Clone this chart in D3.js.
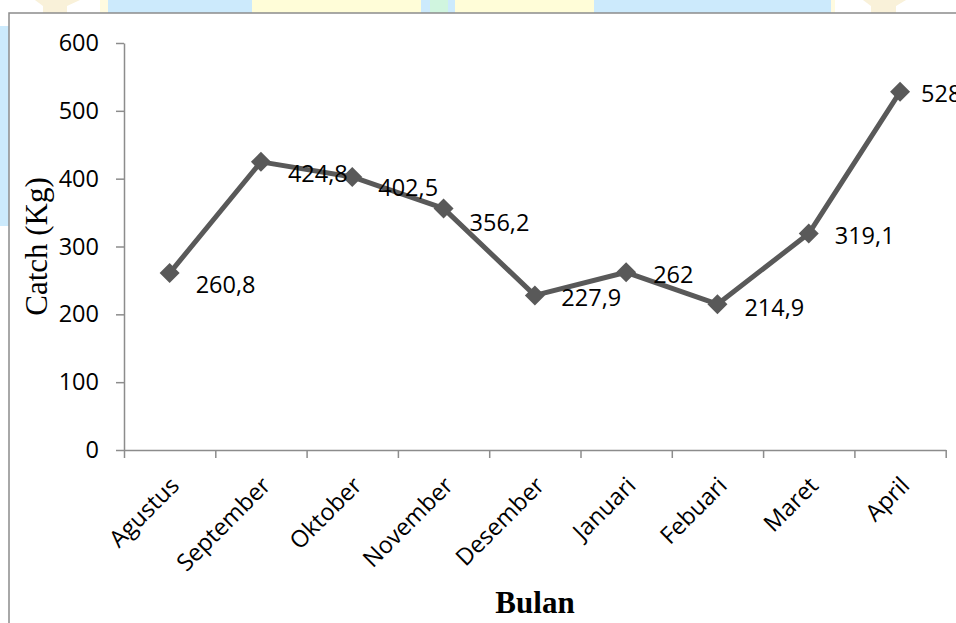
<!DOCTYPE html>
<html>
<head>
<meta charset="utf-8">
<script src="https://cdn.jsdelivr.net/npm/d3@7/dist/d3.min.js"></script>
<style>
  html, body { margin: 0; padding: 0; background: #fff; }
  svg { display: block; }
</style>
</head>
<body>
<svg id="chart" width="956" height="623"></svg>
<script>
// Monthly catch (kg)
const months = ["Agustus", "September", "Oktober", "November", "Desember", "Januari", "Febuari", "Maret", "April"];
const catchKg = [260.8, 424.8, 402.5, 356.2, 227.9, 262, 214.9, 319.1, 528];
const yTicks = [0, 100, 200, 300, 400, 500, 600];
const yTitle = "Catch (Kg)";
const xTitle = "Bulan";

const svg = d3.select("#chart");
const W = 956, H = 623;
const plot = { left: 124, right: 945.7, top: 43, bottom: 450 };
const axisColor = "#8c8c8c";
const lineColor = "#595959";
const sansFont = "'Open Sans', 'Noto Sans', sans-serif";
const serifFont = "'Liberation Serif', 'Times New Roman', serif";

// page decoration around the chart frame
const deco = svg.append("g");
[
  [100, 8, "#fffbe0"], [108, 144, "#cceafc"], [252, 169, "#fffdd8"],
  [421, 9, "#cceafc"], [430, 18, "#d0f5df"], [448, 7, "#cceafc"],
  [455, 139, "#fffdd8"], [594, 237, "#cceafc"], [831, 4, "#fffbe0"]
].forEach(([x, w, c]) => deco.append("rect").attr("x", x).attr("y", 0).attr("width", w).attr("height", 13).attr("fill", c));
deco.append("rect").attr("x", 0).attr("y", 26).attr("width", 9).attr("height", 200).attr("fill", "#cceafc");
[[35, 80, 43, 67], [863, 906, 871, 896]].forEach(([a, b, c, d]) => {
  deco.append("path")
    .attr("d", `M${a},0 L${b},0 L${d},6 L${d},13 L${c},13 L${c},6 Z`)
    .attr("fill", "#f9f1d9");
});

// chart frame
svg.append("rect").attr("x", 9).attr("y", 13).attr("width", W).attr("height", H)
  .attr("fill", "#fff").attr("stroke", axisColor).attr("stroke-width", 1.5);

// scales
const x = d3.scaleBand().domain(months).range([plot.left, plot.right]).padding(0);
const xEdge = d3.scaleLinear().domain([0, months.length]).range([plot.left, plot.right]);
const y = d3.scaleLinear().domain([0, 600]).range([plot.bottom, plot.top]);
const cx = m => x(m) + x.bandwidth() / 2;

// y axis
const yAxis = svg.append("g").attr("transform", `translate(${plot.left},0)`)
  .call(d3.axisLeft(y).tickValues(yTicks).tickSize(8).tickSizeOuter(0).tickPadding(17));
yAxis.selectAll("path, line").attr("stroke", axisColor).attr("stroke-width", 1.5);
yAxis.selectAll("text").attr("font-family", sansFont).attr("font-size", 23.5).attr("fill", "#000");

// x axis: tick marks at category boundaries
const xAxis = svg.append("g").attr("transform", `translate(0,${plot.bottom})`)
  .call(d3.axisBottom(xEdge).tickValues(d3.range(months.length + 1)).tickFormat("").tickSize(8).tickSizeOuter(0));
xAxis.selectAll("path, line").attr("stroke", axisColor).attr("stroke-width", 1.5);

// category labels, rotated
svg.append("g").selectAll("text").data(months).join("text")
  .attr("transform", d => `translate(${cx(d) + 11},${plot.bottom + 37}) rotate(-45)`)
  .attr("text-anchor", "end")
  .attr("font-family", sansFont).attr("font-size", 23.5).attr("fill", "#000")
  .text(d => d);

// series line
const pts = months.map((m, i) => ({ m, v: catchKg[i] }));
svg.append("path").datum(pts)
  .attr("d", d3.line().x(d => cx(d.m)).y(d => y(d.v)))
  .attr("fill", "none").attr("stroke", lineColor).attr("stroke-width", 5).attr("stroke-linejoin", "round");

// diamond markers
svg.append("g").selectAll("path").data(pts).join("path")
  .attr("transform", d => `translate(${cx(d.m)},${y(d.v)})`)
  .attr("d", "M0,-10 L10,0 L0,10 L-10,0 Z")
  .attr("fill", lineColor);

// value labels (vertical nudge per label, px)
const labelNudge = [11, 11.5, 10.5, 14, 2, 2, 3, 1.5, 2];
const labelShift = [26, 27, 26, 26, 26.5, 27, 27, 26, 21];
svg.append("g").selectAll("text").data(pts).join("text")
  .attr("x", (d, i) => cx(d.m) + labelShift[i])
  .attr("y", (d, i) => y(d.v) + labelNudge[i])
  .attr("dy", "0.36em")
  .attr("font-family", sansFont).attr("font-size", 23.5).attr("fill", "#000")
  .text(d => String(d.v).replace(".", ","));

// axis titles
svg.append("text")
  .attr("transform", `translate(47,${(plot.top + plot.bottom) / 2}) rotate(-90)`)
  .attr("text-anchor", "middle")
  .attr("font-family", serifFont).attr("font-size", 31).attr("fill", "#000")
  .text(yTitle);

svg.append("text")
  .attr("x", 535).attr("y", 613)
  .attr("text-anchor", "middle")
  .attr("font-family", serifFont).attr("font-weight", "bold").attr("font-size", 31).attr("fill", "#000")
  .text(xTitle);
</script>
</body>
</html>
